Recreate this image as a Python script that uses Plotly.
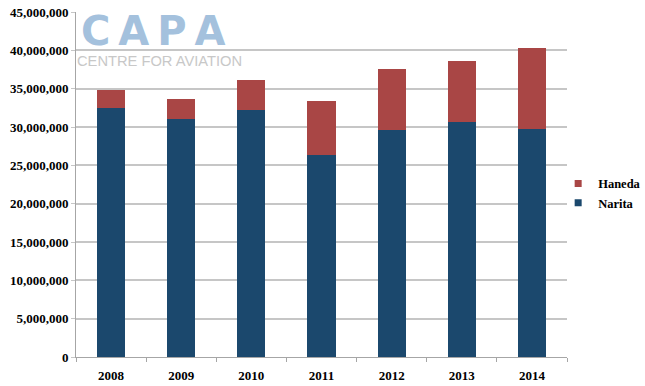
import plotly.graph_objects as go

years = ["2008", "2009", "2010", "2011", "2012", "2013", "2014"]
narita = [32500000, 31000000, 32200000, 26350000, 29650000, 30700000, 29750000]
haneda = [2300000, 2650000, 3900000, 7050000, 7900000, 7900000, 10550000]

y_ticks = list(range(0, 45000001, 5000000))
y_labels = [f"{v:,}" for v in y_ticks]

NARITA_C = "#1B486D"
HANEDA_C = "#A94645"

fig = go.Figure()
fig.add_trace(go.Bar(x=years, y=narita, name="Narita", marker_color=NARITA_C,
                     marker_line_width=0, width=0.4, showlegend=False))
fig.add_trace(go.Bar(x=years, y=haneda, name="Haneda", marker_color=HANEDA_C,
                     marker_line_width=0, width=0.4, showlegend=False))
# legend entries with small square symbols
fig.add_trace(go.Scatter(x=[None], y=[None], mode="markers", name="Haneda",
                         marker=dict(symbol="square", size=7, color=HANEDA_C), legendrank=1))
fig.add_trace(go.Scatter(x=[None], y=[None], mode="markers", name="Narita",
                         marker=dict(symbol="square", size=7, color=NARITA_C), legendrank=2))

tick_font = dict(family="Liberation Serif", size=13, color="#000000", weight="bold")

fig.update_layout(
    barmode="stack",
    width=645, height=386,
    margin=dict(l=76, r=78, t=12, b=29, autoexpand=False),
    paper_bgcolor="white", plot_bgcolor="white",
    showlegend=True,
    legend=dict(x=0.982, y=0.545, xanchor="left", yanchor="top",
                traceorder="normal",
                font=dict(family="Liberation Serif", size=12.5, color="#000", weight="bold"),
                itemwidth=30, bgcolor="rgba(0,0,0,0)"),
    xaxis=dict(type="category", showline=True, linecolor="#A6A6A6", linewidth=1,
               ticks="outside", tickson="boundaries", ticklen=4, tickcolor="#A6A6A6",
               tickfont=tick_font, showgrid=False, automargin=False,
               ticklabelstandoff=6),
    yaxis=dict(range=[0, 45000000], tickvals=y_ticks, ticktext=y_labels,
               showline=True, linecolor="#A6A6A6", linewidth=1,
               ticks="outside", ticklen=4, tickcolor="#C6C6C6",
               gridcolor="#C6C6C6", gridwidth=2, tickfont=tick_font, zeroline=False,
               automargin=False, ticklabeloverflow="allow"),
)

fig.add_annotation(xref="paper", yref="paper", x=0.0, y=1.0, xanchor="left", yanchor="top",
                   text="<b>C\u2009A\u2009P\u2009A</b>", showarrow=False,
                   font=dict(family="DejaVu Sans", size=40, color="#A4C1DD"), yshift=6, xshift=3)
fig.add_annotation(xref="paper", yref="paper", x=0.0, y=0.885, xanchor="left", yanchor="top",
                   text="CENTRE FOR AVIATION", showarrow=False,
                   font=dict(family="Liberation Sans", size=14.7, color="#C8C8C8"), xshift=-1, yshift=1)

fig.write_html("out.html", config={"displayModeBar": False},
               post_script="document.body.style.margin='0';document.body.style.overflow='hidden';")
